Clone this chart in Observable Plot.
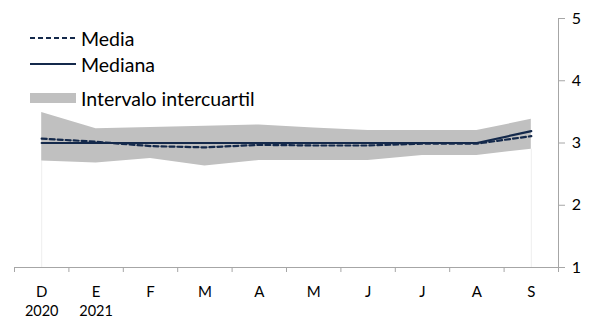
<!DOCTYPE html>
<html>
<head>
<meta charset="utf-8">
<script src="https://cdn.jsdelivr.net/npm/d3@7"></script>
<script src="https://cdn.jsdelivr.net/npm/@observablehq/plot@0.6"></script>
<style>
  html, body { margin: 0; padding: 0; background: #fff; }
  #wrap { position: relative; width: 598px; height: 321px; font-family: Lato, "Open Sans", sans-serif; }
  .leg { position: absolute; left: 30px; display: flex; align-items: center; font-size: 19.5px; color: #000; white-space: nowrap; }
  .leg svg { margin-right: 3px; }
</style>
</head>
<body>
<div id="wrap"></div>
<script>
const months = ["D", "E", "F", "M", "A", "M", "J", "J", "A", "S"];
const years = ["2020", "2021", "", "", "", "", "", "", "", ""];
const media = [3.07, 3.02, 2.95, 2.93, 2.97, 2.96, 2.96, 2.99, 2.99, 3.11];
const mediana = [3.0, 3.0, 3.0, 3.0, 3.0, 3.0, 3.0, 3.0, 3.0, 3.19];
const p25 = [2.71, 2.68, 2.75, 2.63, 2.72, 2.72, 2.72, 2.80, 2.80, 2.90];
const p75 = [3.49, 3.23, 3.25, 3.27, 3.29, 3.24, 3.20, 3.20, 3.20, 3.38];
const yTicks = [1, 2, 3, 4, 5];

const data = months.map((m, i) => ({i, m, yr: years[i], media: media[i], mediana: mediana[i], p25: p25[i], p75: p75[i]}));
const bounds = d3.range(-0.5, months.length, 1);
const navy = "#14294b";
const axisGray = "#a6a6a6";

const chart = Plot.plot({
  width: 598,
  height: 321,
  marginLeft: 14,
  marginRight: 40,
  marginTop: 18,
  marginBottom: 54,
  style: {color: axisGray, background: "#fff", fontFamily: "Lato, 'Open Sans', sans-serif"},
  x: {type: "linear", domain: [-0.5, months.length - 0.5], ticks: bounds, tickFormat: () => "", tickSize: 5, line: true, label: null},
  y: {domain: [1, 5], axis: "right", ticks: yTicks, tickFormat: () => "", tickSize: 6, line: true, label: null},
  marks: [
    Plot.ruleX([data[0], data[data.length - 1]], {x: "i", y1: 1, y2: "p25", stroke: "#eeeeee", strokeWidth: 1}),
    Plot.areaY(data, {x: "i", y1: "p25", y2: "p75", fill: "#c0c0c0"}),
    Plot.lineY(data, {x: "i", y: "mediana", stroke: navy, strokeWidth: 2.2}),
    Plot.lineY(data, {x: "i", y: "media", stroke: navy, strokeWidth: 2.2, strokeDasharray: "5,3"}),
    Plot.text(data, {x: "i", y: 1, text: "m", dy: 25, fill: "#000", fontSize: 15}),
    Plot.text(data, {x: "i", y: 1, text: "yr", dy: 44, fill: "#000", fontSize: 14.5}),
    Plot.text(yTicks, {x: months.length - 0.5, y: d => d, text: d => String(d), dx: 18, fill: "#000", fontSize: 16})
  ]
});

const wrap = document.getElementById("wrap");
wrap.appendChild(chart);

const legend = [
  {label: "Media", top: 38, svg: `<svg width="48" height="6"><line x1="0" x2="46" y1="3" y2="3" stroke="${navy}" stroke-width="2.2" stroke-dasharray="5,3"/></svg>`},
  {label: "Mediana", top: 64, svg: `<svg width="48" height="6"><line x1="0" x2="46" y1="3" y2="3" stroke="${navy}" stroke-width="2.2"/></svg>`},
  {label: "Intervalo intercuartil", top: 98, svg: `<svg width="48" height="10"><rect x="0" y="0" width="46" height="10" fill="#c0c0c0"/></svg>`}
];
for (const l of legend) {
  const d = document.createElement("div");
  d.className = "leg";
  d.style.top = (l.top - 12) + "px";
  d.style.height = "24px";
  d.innerHTML = l.svg + `<span>${l.label}</span>`;
  wrap.appendChild(d);
}
</script>
</body>
</html>
